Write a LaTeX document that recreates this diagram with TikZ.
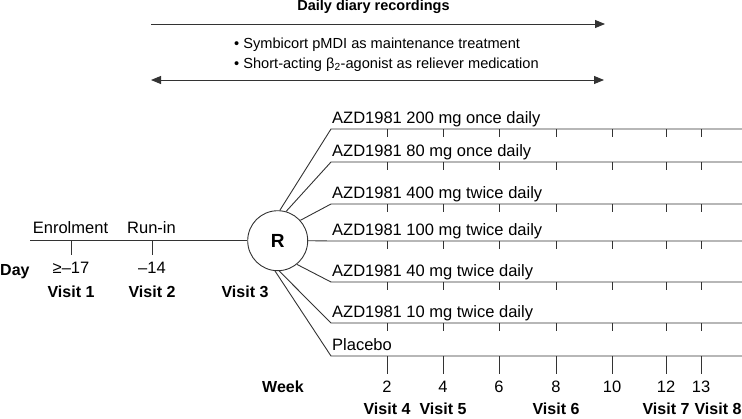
\documentclass[tikz,border=0pt]{standalone}
\usepackage{fontspec}
\setmainfont{Liberation Sans}
\usetikzlibrary{arrows.meta}
\begin{document}
\begin{tikzpicture}[x=1pt,y=-1pt,
  ln/.style={line width=0.9pt,draw=black!80},
  txt/.style={inner sep=0pt,font=\fontsize{16.5}{19}\selectfont},
  stxt/.style={inner sep=0pt,font=\fontsize{14.6}{17}\selectfont},
  btxt/.style={inner sep=0pt,font=\fontsize{16}{19}\selectfont\bfseries},
  arr/.style={ln,-{Triangle[length=10pt,width=8pt]}},
  darr/.style={ln,{Triangle[length=10pt,width=8pt]}-{Triangle[length=10pt,width=8pt]}}]
\useasboundingbox (0,0) rectangle (742,418);
% top
\node[inner sep=0pt,font=\fontsize{14.5}{17}\selectfont\bfseries] (title) at (373.5,7) {Daily diary recordings};
\coordinate (t1a) at (151,24); \coordinate (t1b) at (605,24);
\draw[arr] (t1a) -- (t1b);
\node[stxt,anchor=base west] (b1) at (234,48) {• Symbicort pMDI as maintenance treatment};
\node[stxt,anchor=base west] (b2) at (234,68) {• Short-acting β\textsubscript{2}-agonist as reliever medication};
\coordinate (t2a) at (151,80); \coordinate (t2b) at (604,80);
\draw[darr] (t2a) -- (t2b);
% run-in
\node[draw=black!80,line width=0.9pt,circle,minimum size=60pt,inner sep=0pt,font=\fontsize{19}{22}\selectfont\bfseries] (R) at (277.7,240.7) {R};
\coordinate (m0) at (30,240.7);
\draw[ln] (m0) -- (R.west);
\coordinate (v1) at (71,240.7); \coordinate (v1b) at (71,255);
\coordinate (v2) at (152,240.7); \coordinate (v2b) at (152,255);
\draw[ln] (v1) -- (v1b);
\draw[ln] (v2) -- (v2b);
\node[txt] (enr) at (70.5,228) {Enrolment};
\node[txt] (run) at (151.5,228) {Run-in};
\node[btxt,anchor=west] (day) at (0,272) {Day};
\node[txt] (d1) at (71,268) {≥–17};
\node[txt] (d2) at (152,268) {–14};
\node[btxt] (vis1) at (71,292) {Visit 1};
\node[btxt] (vis2) at (152,292) {Visit 2};
\node[btxt] (vis3) at (245,292) {Visit 3};
% arms
\foreach \ang/\yy/\lab [count=\i] in {
  86/129/{AZD1981 200 mg once daily},
  74/162/{AZD1981 80 mg once daily},
  42/204/{AZD1981 400 mg twice daily},
  0/241/{AZD1981 100 mg twice daily},
  -51/282/{AZD1981 40 mg twice daily},
  -87/323/{AZD1981 10 mg twice daily},
  -95/356/{Placebo}}{
  \coordinate (as\i) at (331,\yy);
  \coordinate (ae\i) at (742,\yy);
  \draw[ln] (R.\ang) -- (as\i) -- (ae\i);
  \node[txt,anchor=base west] (lab\i) at (332,\yy-6) {\lab};
}
\foreach \yy in {129,162,204,241,282,323}{
  \foreach \xx in {387,443,499,556,612,666,701}{
    \draw[ln] (\xx,\yy) -- (\xx,\yy+8);
  }
}
\foreach \xx/\w [count=\j] in {387/2,443/4,499/6,556/8,612/10,666/12,701/13}{
  \coordinate (pt\j) at (\xx,356);
  \coordinate (pb\j) at (\xx,374);
  \draw[ln] (pt\j) -- (pb\j);
  \node[txt] (wk\j) at (\xx,387) {\w};
}
\node[btxt] (week) at (283,387) {Week};
\node[btxt] (vis4) at (387,409) {Visit 4};
\node[btxt] (vis5) at (443,409) {Visit 5};
\node[btxt] (vis6) at (556,409) {Visit 6};
\node[btxt] (vis7) at (666,409) {Visit 7};
\node[btxt] (vis8) at (718,409) {Visit 8};
\end{tikzpicture}
\end{document}
